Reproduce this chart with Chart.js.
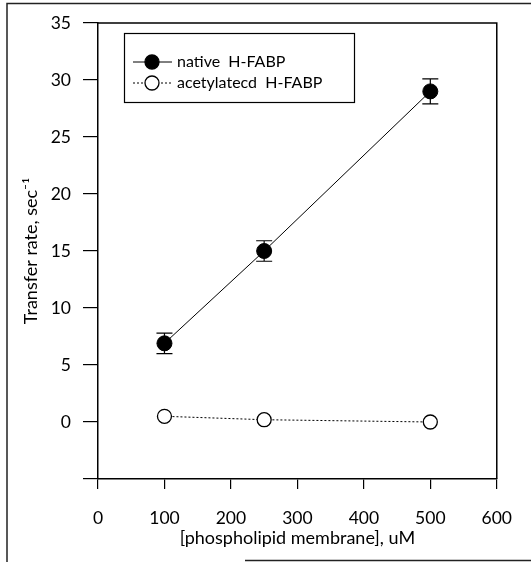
<!DOCTYPE html>
<html lang="en">
<head>
  <meta charset="UTF-8">
  <title>Transfer rate vs phospholipid membrane</title>
  <script src="https://cdn.jsdelivr.net/npm/chart.js"></script>
  <style>
    * { margin: 0; padding: 0; }
    body { background: #fff; width: 531px; height: 562px; overflow: hidden; }
    #wrap { position: relative; width: 531px; height: 562px; }
  </style>
</head>
<body>
  <div id="wrap"><canvas id="c"></canvas></div>

  <script>
    // data
    const membrane      = [100, 250, 500];          // uM
    const nativeRate    = [6.9, 15.0, 29.0];        // sec^-1
    const nativeErr     = [0.9, 0.9, 1.1];
    const acetylRate    = [0.5, 0.2, 0.0];
    const xTicks        = [0, 100, 200, 300, 400, 500, 600];
    const yTicks        = [-5, 0, 5, 10, 15, 20, 25, 30, 35];
    const seriesNames   = ['native  H-FABP', 'acetylatecd  H-FABP'];

    const FONT = 'Lato, "Open Sans", sans-serif';

    const toXY = (xs, ys) => xs.map((x, i) => ({ x: x, y: ys[i] }));

    // outer frame of the scanned figure
    const framePlugin = {
      id: 'frame',
      afterDraw(chart) {
        const c = chart.ctx;
        c.save();
        c.strokeStyle = '#222';
        c.lineWidth = 1.5;
        c.beginPath();
        c.moveTo(7, 562); c.lineTo(7, 3.5); c.lineTo(531, 3.5);
        c.moveTo(245, 560.5); c.lineTo(531, 560.5);
        c.stroke();
        c.restore();
      }
    };

    // box round the plot area
    const boxPlugin = {
      id: 'box',
      afterDraw(chart) {
        const a = chart.chartArea, c = chart.ctx;
        c.save();
        c.strokeStyle = '#000';
        c.lineWidth = 1.5;
        c.beginPath();
        c.moveTo(a.left, a.top); c.lineTo(a.right, a.top); c.lineTo(a.right, a.bottom);
        c.stroke();
        c.restore();
      }
    };

    // vertical error bars for the native series
    const errorPlugin = {
      id: 'errbars',
      beforeDatasetsDraw(chart) {
        const xs = chart.scales.x, ys = chart.scales.y, c = chart.ctx;
        c.save();
        c.strokeStyle = '#000';
        c.lineWidth = 1.2;
        membrane.forEach((m, i) => {
          const px = xs.getPixelForValue(m);
          const hi = ys.getPixelForValue(nativeRate[i] + nativeErr[i]);
          const lo = ys.getPixelForValue(nativeRate[i] - nativeErr[i]);
          c.beginPath();
          c.moveTo(px, hi); c.lineTo(px, lo);
          c.moveTo(px - 8, hi); c.lineTo(px + 8, hi);
          c.moveTo(px - 8, lo); c.lineTo(px + 8, lo);
          c.stroke();
        });
        c.restore();
      }
    };

    // legend: line with marker, then label
    const legendPlugin = {
      id: 'legendBox',
      afterDraw(chart) {
        const c = chart.ctx;
        c.save();
        c.strokeStyle = '#000';
        c.lineWidth = 1.2;
        c.strokeRect(124.5, 33.5, 230, 69);
        const rows = [62, 83];
        chart.data.datasets.forEach((ds, i) => {
          const y = rows[i];
          c.strokeStyle = '#000';
          c.lineWidth = 1;
          c.setLineDash(ds.borderDash || []);
          c.beginPath(); c.moveTo(133, y); c.lineTo(172, y); c.stroke();
          c.setLineDash([]);
          c.beginPath(); c.arc(152, y, 7, 0, Math.PI * 2);
          c.fillStyle = ds.pointBackgroundColor;
          c.fill();
          c.lineWidth = 1.3;
          c.stroke();
          c.fillStyle = '#000';
          c.font = '16px ' + FONT;
          c.textAlign = 'left';
          c.textBaseline = 'middle';
          c.fillText(ds.label, 177, y);
        });
        c.restore();
      }
    };

    new Chart(document.getElementById('c'), {
      type: 'scatter',
      data: {
        datasets: [
          {
            label: seriesNames[0],
            data: toXY(membrane, nativeRate),
            showLine: true,
            borderColor: '#000',
            borderWidth: 1,
            pointRadius: 7.5,
            pointBackgroundColor: '#000',
            pointBorderColor: '#000'
          },
          {
            label: seriesNames[1],
            data: toXY(membrane, acetylRate),
            showLine: true,
            borderColor: '#000',
            borderWidth: 1,
            borderDash: [2, 2],
            pointRadius: 7,
            pointBorderWidth: 1.3,
            pointBackgroundColor: '#fff',
            pointBorderColor: '#000'
          }
        ]
      },
      options: {
        responsive: true,
        maintainAspectRatio: false,
        animation: false,
        layout: { padding: { top: 23, right: 29.5, left: 0, bottom: 0 } },
        plugins: { legend: { display: false }, tooltip: { enabled: false } },
        scales: {
          x: {
            type: 'linear',
            min: 0, max: 600,
            afterBuildTicks: s => { s.ticks = xTicks.map(v => ({ value: v })); },
            afterFit: s => { s.height = 83; },
            ticks: { color: '#000', padding: 19, maxRotation: 0, font: { family: FONT, size: 17.5 } },
            grid: { drawOnChartArea: false, drawTicks: true, tickLength: 10, color: '#000', lineWidth: 1.2 },
            border: { color: '#000', width: 1.5 },
            title: {
              display: true, text: '[phospholipid membrane], uM', color: '#000',
              font: { family: FONT, size: 18 }, padding: { top: 0, bottom: 13 }
            }
          },
          y: {
            min: -5, max: 35,
            afterBuildTicks: s => { s.ticks = yTicks.map(v => ({ value: v })); },
            afterFit: s => { s.width = 98; },
            ticks: {
              color: '#000', padding: 12, font: { family: FONT, size: 17.5 },
              callback: v => (v < 0 ? '' : v)
            },
            grid: { drawOnChartArea: false, drawTicks: true, tickLength: 15, color: '#000', lineWidth: 1.2 },
            border: { color: '#000', width: 1.5 },
            title: {
              display: true, text: 'Transfer rate, sec\u207B\u00B9', color: '#000',
              font: { family: FONT, size: 18 }, padding: { top: 20, bottom: 0 }
            }
          }
        }
      },
      plugins: [errorPlugin, boxPlugin, legendPlugin, framePlugin]
    });
  </script>
</body>
</html>
